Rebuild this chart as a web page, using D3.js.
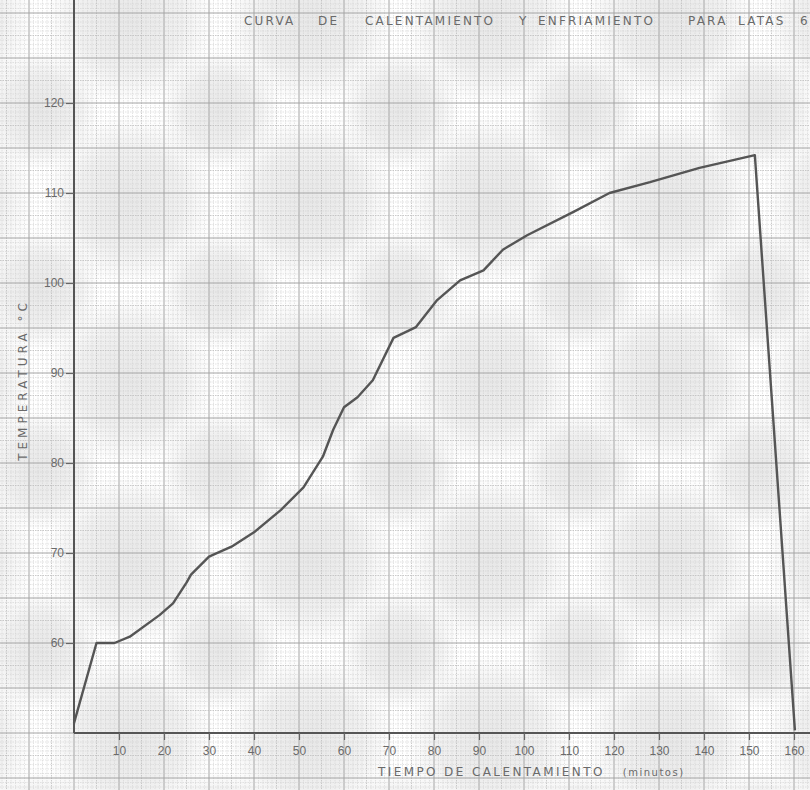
<!DOCTYPE html>
<html lang="es">
<head>
  <meta charset="UTF-8">
  <title>Curva de calentamiento y enfriamiento</title>
  <script src="https://d3js.org/d3.v7.min.js"></script>
  <style>
    body { margin: 0; padding: 0; background: #fff; }
    svg { display: block; font-family: 'DejaVu Sans', sans-serif; }
  </style>
</head>
<body>
  <svg id="chart"></svg>
  <script>
    // tiempo (min) y temperatura (°C)
    const tiempo = [0, 5, 9, 12.4, 19, 22, 25, 26, 30, 35, 40, 46, 51, 55.3, 57.6, 60, 63, 66.4, 71, 76, 80.7, 85.8, 91, 95.3, 100.7, 111, 119, 128, 139, 151.3, 160.2];
    const temperatura = [51.1, 60, 60, 60.7, 63.1, 64.4, 66.7, 67.6, 69.6, 70.7, 72.3, 74.8, 77.3, 80.7, 83.7, 86.2, 87.3, 89.2, 93.9, 95.1, 98.1, 100.3, 101.4, 103.7, 105.3, 107.9, 110, 111.2, 112.8, 114.2, 50.3];

    const xTicks = [10, 20, 30, 40, 50, 60, 70, 80, 90, 100, 110, 120, 130, 140, 150, 160];
    const yTicks = [60, 70, 80, 90, 100, 110, 120];
    const titleWords = ["CURVA", "DE", "CALENTAMIENTO", "Y", "ENFRIAMIENTO", "PARA", "LATAS", "6"];
    const titleX = [244, 318, 365, 519, 538, 688, 738, 800];

    const width = 810, height = 790;
    const svg = d3.select("#chart").attr("width", width).attr("height", height);

    const x = d3.scaleLinear().domain([0, 160]).range([74, 794]);
    const y = d3.scaleLinear().domain([50, 120]).range([733, 103]);

    // halftone look of the scan
    const defs = svg.append("defs");
    const grad = defs.append("radialGradient").attr("id", "blob");
    grad.append("stop").attr("offset", "0%").attr("stop-color", "#888").attr("stop-opacity", 0.2);
    grad.append("stop").attr("offset", "60%").attr("stop-color", "#888").attr("stop-opacity", 0.13);
    grad.append("stop").attr("offset", "100%").attr("stop-color", "#888").attr("stop-opacity", 0);
    const pat = defs.append("pattern").attr("id", "moire")
      .attr("patternUnits", "userSpaceOnUse").attr("width", 180).attr("height", 180)
      .attr("x", 40).attr("y", 110);
    pat.append("circle").attr("cx", 90).attr("cy", 90).attr("r", 85).attr("fill", "url(#blob)");
    [[0, 0], [180, 0], [0, 180], [180, 180]].forEach(c => {
      pat.append("circle").attr("cx", c[0]).attr("cy", c[1]).attr("r", 60).attr("fill", "url(#blob)");
    });
    svg.append("rect").attr("width", width).attr("height", height).attr("fill", "#fff");
    svg.append("rect").attr("width", width).attr("height", height).attr("fill", "url(#moire)");

    // papel milimetrado
    const grid = svg.append("g");
    const tMin = x.invert(0), tMax = x.invert(width);
    const cMin = y.invert(height), cMax = y.invert(0);
    const gridStyle = (major, mid) => ({
      stroke: major ? "#a4a4a4" : mid ? "#bcbcbc" : "#d2d2d2",
      width: major ? 1 : mid ? 0.8 : 0.6
    });
    d3.range(Math.ceil(tMin), tMax, 1).forEach(t => {
      const r = Math.round(t);
      const s = gridStyle(r % 10 === 0, r % 5 === 0);
      grid.append("line")
        .attr("x1", x(t)).attr("x2", x(t)).attr("y1", 0).attr("y2", height)
        .attr("stroke", s.stroke).attr("stroke-width", s.width)
        .attr("stroke-dasharray", r % 10 === 0 ? null : "1.5,1");
    });
    d3.range(Math.ceil(cMin * 2) / 2, cMax, 0.5).forEach(c => {
      const r = Math.round(c * 2);
      const s = gridStyle(r % 10 === 0, r % 5 === 0);
      grid.append("line")
        .attr("x1", 0).attr("x2", width).attr("y1", y(c)).attr("y2", y(c))
        .attr("stroke", s.stroke).attr("stroke-width", s.width)
        .attr("stroke-dasharray", r % 10 === 0 ? null : "1.5,1");
    });

    // ejes
    svg.append("line").attr("x1", x(0)).attr("x2", width).attr("y1", y(50)).attr("y2", y(50))
      .attr("stroke", "#555").attr("stroke-width", 2);
    svg.append("line").attr("x1", x(0)).attr("x2", x(0)).attr("y1", 0).attr("y2", y(50))
      .attr("stroke", "#555").attr("stroke-width", 2);

    const xAxis = d3.axisBottom(x).tickValues(xTicks).tickSize(7).tickPadding(6).tickFormat(d3.format("d"));
    svg.append("g").attr("transform", `translate(0,${y(50)})`).call(xAxis)
      .call(g => g.select(".domain").remove())
      .call(g => g.selectAll("line").attr("stroke", "#666").attr("stroke-width", 1.2))
      .call(g => g.selectAll("text").attr("fill", "#6a6a6a").attr("font-size", 12));

    const yAxis = d3.axisLeft(y).tickValues(yTicks).tickSize(8).tickPadding(2).tickFormat(d3.format("d"));
    svg.append("g").attr("transform", `translate(${x(0)},0)`).call(yAxis)
      .call(g => g.select(".domain").remove())
      .call(g => g.selectAll("line").attr("stroke", "#666").attr("stroke-width", 1.2))
      .call(g => g.selectAll("text").attr("fill", "#6a6a6a").attr("font-size", 12));

    // curva
    const pts = tiempo.map((t, i) => [t, temperatura[i]]);
    svg.append("path").datum(pts)
      .attr("fill", "none").attr("stroke", "#555").attr("stroke-width", 2.4)
      .attr("stroke-linejoin", "round")
      .attr("d", d3.line().x(d => x(d[0])).y(d => y(d[1])));

    // titulos
    svg.append("g").selectAll("text").data(titleWords).join("text")
      .attr("x", (d, i) => titleX[i]).attr("y", 25)
      .attr("font-size", 12).attr("fill", "#6a6a6a").attr("letter-spacing", 2.2)
      .text(d => d);

    svg.append("text")
      .attr("transform", "translate(27,380) rotate(-90)")
      .attr("text-anchor", "middle").attr("font-size", 12).attr("fill", "#6a6a6a")
      .attr("letter-spacing", 4)
      .text("TEMPERATURA  °C");

    const xt = svg.append("text").attr("x", 378).attr("y", 776)
      .attr("font-size", 12).attr("fill", "#6a6a6a").attr("letter-spacing", 2.4);
    xt.append("tspan").text("TIEMPO DE CALENTAMIENTO");
    xt.append("tspan").attr("dx", 18).attr("font-size", 10).attr("letter-spacing", 1.5).text("(minutos)");
  </script>
</body>
</html>
